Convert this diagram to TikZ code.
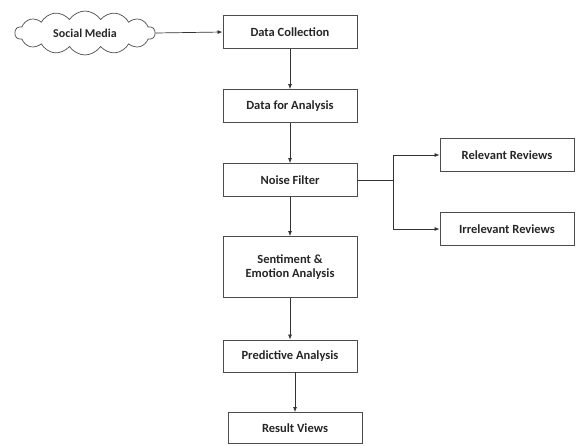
\documentclass[tikz,border=0pt]{standalone}
\usepackage{fontspec}
\setmainfont{Carlito}
\usetikzlibrary{shapes.symbols,arrows.meta,positioning}

\begin{document}
\begin{tikzpicture}[x=1pt,y=-1pt,
    box/.style={draw=black!70,line width=0.9pt,minimum width=134pt,minimum height=33pt,
                font=\fontsize{12.5}{14}\selectfont\bfseries,text=black!85,align=center,inner sep=2pt},
    arr/.style={-{Latex[length=5pt,width=4pt]},draw=black!80,line width=0.7pt}]
    \useasboundingbox (0,0) rectangle (578,445);
    % source
    \node[cloud,draw=black!70,line width=0.7pt,cloud puffs=14,cloud puff arc=115,aspect=3.2,
          minimum width=140pt,minimum height=44pt,text=black!85,
          font=\fontsize{12}{14}\selectfont\bfseries]
          (social) at (85,33) {Social Media};
    % main chain
    \node[box] (collect) at (290,32) {Data Collection};
    \node[box] (analysis) at (290,106) {Data for Analysis};
    \node[box] (noise) at (290,180) {Noise Filter};
    \node[box,minimum height=61pt] (senti) at (290,267) {Sentiment \&\\Emotion Analysis};
    \node[box,minimum height=32pt] (predict) at (290,356) {Predictive Analysis};
    \node[box,minimum height=31pt] (result) at (295,428) {Result Views};
    % filter outputs
    \node[box] (relevant) at (507,155) {Relevant Reviews};
    \node[box] (irrelevant) at (507,229) {Irrelevant Reviews};
    \coordinate (split) at (393,180);

    \draw[arr] (social.east) -- (collect.west);
    \draw[arr] (collect) -- (analysis);
    \draw[arr] (analysis) -- (noise);
    \draw[arr] (noise) -- (senti);
    \draw[arr] (senti) -- (predict);
    \draw[arr] (predict.south -| result) -- (result);
    \draw[draw=black!80,line width=0.7pt] (noise.east) -- (split);
    \draw[arr] (split) |- (relevant.west);
    \draw[arr] (split) |- (irrelevant.west);
\end{tikzpicture}
\end{document}
